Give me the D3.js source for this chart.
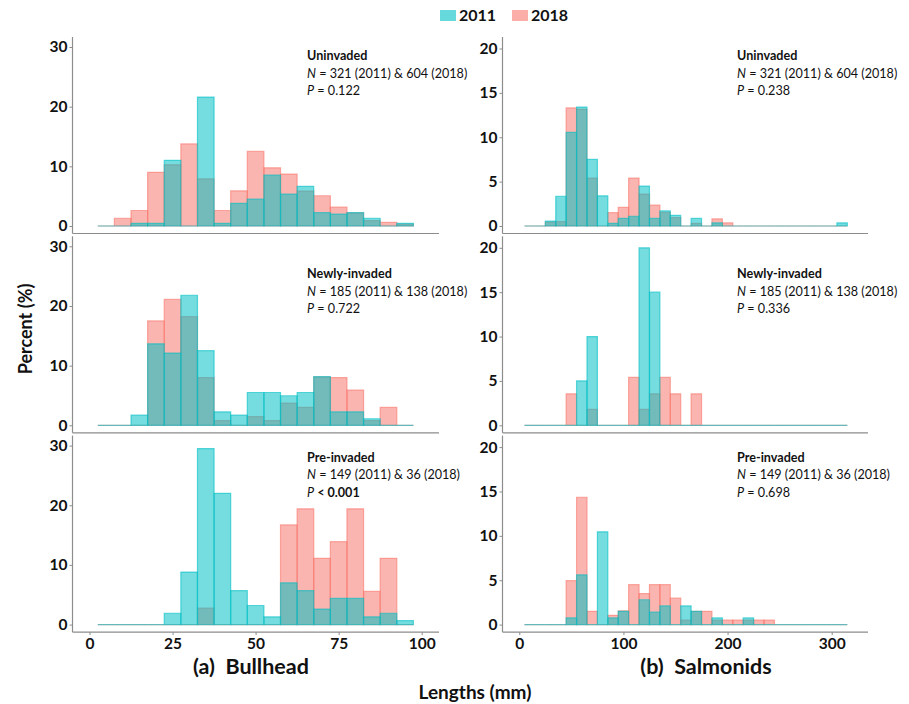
<!DOCTYPE html>
<html>
<head>
<meta charset="utf-8">
<script src="https://cdn.jsdelivr.net/npm/d3@7"></script>
<style>
  html, body { margin: 0; padding: 0; background: #fff; }
  svg { display: block; font-family: Lato, "Open Sans", sans-serif; }
</style>
</head>
<body>
<svg id="chart" width="909" height="704"></svg>
<script>
// ---------- DATA ----------
const seriesNames = ["2011", "2018"];
const bullheadBins = [5,10,15,20,25,30,35,40,45,50,55,60,65,70,75,80,85,90,95];
const salmonidBins = [10,20,30,40,50,60,70,80,90,100,110,120,130,140,150,160,170,180,190,200,210,220,230,240,250,260,270,280,290,300,310];
const bullheadTicksX = [0,25,50,75,100];
const salmonidTicksX = [0,100,200,300];
const bullheadTicksY = [0,10,20,30];
const salmonidTicksY = [0,5,10,15,20];

// Bullhead (% per 5 mm bin)
const bullUninv2011 = [0,0,0.45,0.45,11.0,0,21.6,0.45,3.8,4.5,8.55,5.35,6.65,2.25,2.0,2.25,1.3,0,0.45];
const bullUninv2018 = [0,1.3,2.6,9.0,10.25,13.75,7.9,2.6,5.9,12.5,9.75,8.7,5.85,5.07,3.15,2.2,0.9,0.6,0.3];
const bullNewly2011 = [0,0,1.7,13.65,12.1,21.8,12.5,2.25,1.7,5.5,5.5,4.95,5.5,8.15,2.25,2.25,1.1,0,0];
const bullNewly2018 = [0,0,0,17.5,21.1,18.2,8.0,0.8,0,1.45,0.8,3.7,3.0,8.1,8.0,5.9,0.8,3.0,0];
const bullPre2011   = [0,0,0,0,1.9,8.8,29.5,22.0,5.7,3.2,1.3,7.0,5.7,2.6,4.4,4.4,1.3,1.9,0.67];
const bullPre2018   = [0,0,0,0,0,0,2.78,0,0,0,0,16.7,19.4,11.1,13.9,19.4,5.56,11.1,0];

// Salmonids (% per 10 mm bin)
const salUninv2011 = [0,0,0.56,3.35,10.55,13.4,7.5,3.4,0.3,0.85,1.1,4.5,0.85,1.7,1.2,0,0.85,0,0.35,0,0,0,0,0,0,0,0,0,0,0,0.35];
const salUninv2018 = [0,0,0.45,0.5,13.3,13.15,5.4,0,1.5,2.1,5.4,3.6,2.35,1.55,0.95,0,0.3,0,0.8,0.35,0,0,0,0,0,0,0,0,0,0,0];
const salNewly2011 = [0,0,0,0,0,5.0,10.0,0,0,0,0,20.0,15.0,0,0,0,0,0,0,0,0,0,0,0,0,0,0,0,0,0,0];
const salNewly2018 = [0,0,0,0,3.55,0,1.8,0,0,0,5.4,1.8,3.55,5.4,3.55,0,3.55,0,0,0,0,0,0,0,0,0,0,0,0,0,0];
const salPre2011   = [0,0,0,0,0.75,5.6,0,10.45,0.75,1.5,0,2.8,1.4,2.1,0,2.1,1.5,0,0.75,0,0,0.75,0,0,0,0,0,0,0,0,0];
const salPre2018   = [0,0,0,0,4.95,14.35,1.5,0,1.05,1.55,4.5,3.5,4.5,4.5,3.0,0.5,1.5,1.5,0.5,0.5,0.5,0.5,0.5,0.5,0,0,0,0,0,0,0];

const siteNames = ["Uninvaded", "Newly-invaded", "Pre-invaded"];
const nTexts = ["321 (2011) & 604 (2018)", "185 (2011) & 138 (2018)", "149 (2011) & 36 (2018)"];
const pBullhead = ["= 0.122", "= 0.722", "< 0.001"];
const pSalmonids = ["= 0.238", "= 0.336", "= 0.698"];
const panelTitles = ["(a)\u00a0\u00a0Bullhead", "(b)\u00a0\u00a0Salmonids"];

// ---------- LAYOUT ----------
const svg = d3.select("#chart");
const col2011 = "#00BFC4", col2018 = "#F8766D";
const axisGrey = "#8c8c8c";
const rowZero = [226, 425.3, 624.6];

const cols = [
  { bins: bullheadBins, width: 5, ticksX: bullheadTicksX, ticksY: bullheadTicksY, yMax: 30, ySpan: 179,
    xDom: [0,100], xRange: [89.5, 421.7], axisX0: 72.5, axisX1: 439, annX: 307,
    data: [[bullUninv2011, bullUninv2018],[bullNewly2011, bullNewly2018],[bullPre2011, bullPre2018]], p: pBullhead, title: panelTitles[0], titleX: 251 },
  { bins: salmonidBins, width: 10, ticksX: salmonidTicksX, ticksY: salmonidTicksY, yMax: 20, ySpan: 177.5,
    xDom: [0,300], xRange: [519.3, 831.7], axisX0: 502.5, axisX1: 868, annX: 737,
    data: [[salUninv2011, salUninv2018],[salNewly2011, salNewly2018],[salPre2011, salPre2018]], p: pSalmonids, title: panelTitles[1], titleX: 706 }
];
const annOffset = [23, 42, 26]; // baseline of first annotation line below panel top

cols.forEach(c => {
  const x = d3.scaleLinear().domain(c.xDom).range(c.xRange);
  rowZero.forEach((z, r) => {
    const y = d3.scaleLinear().domain([0, c.yMax]).range([z, z - c.ySpan]);
    const top = z - 189, bottom = z + 7.5;
    const g = svg.append("g");

    // bars: 2018 first, 2011 on top
    const [d2011, d2018] = c.data[r];
    [[d2018, col2018], [d2011, col2011]].forEach(([vals, col]) => {
      g.append("g").selectAll("path")
        .data(c.bins.map((b, i) => ({ b, v: vals[i] })))
        .join("path")
        .attr("d", d => {
          const x0 = x(d.b - c.width / 2), x1 = x(d.b + c.width / 2);
          const y0 = y(0), y1 = y(d.v);
          return `M${x0},${y0}H${x1}V${y1}H${x0}Z`;
        })
        .attr("fill", col).attr("fill-opacity", 0.54)
        .attr("stroke", col).attr("stroke-opacity", 0.6).attr("stroke-width", 1.2);
    });

    // axis lines
    g.append("line").attr("x1", c.axisX0).attr("x2", c.axisX0).attr("y1", top).attr("y2", bottom)
      .attr("stroke", axisGrey).attr("stroke-width", 1.2);
    g.append("line").attr("x1", c.axisX0).attr("x2", c.axisX1).attr("y1", bottom).attr("y2", bottom)
      .attr("stroke", axisGrey).attr("stroke-width", 1.2);

    // y axis
    const ya = g.append("g").attr("transform", `translate(${c.axisX0},0)`)
      .call(d3.axisLeft(y).tickValues(c.ticksY).tickSize(3).tickPadding(2));
    ya.select(".domain").remove();
    ya.selectAll(".tick line").attr("stroke", axisGrey);
    ya.selectAll(".tick text").attr("font-family", "Lato, sans-serif").attr("font-weight", "bold")
      .attr("font-size", 15.5).attr("fill", "#111");

    // x axis on bottom row only
    if (r === 2) {
      const xa = g.append("g").attr("transform", `translate(0,${bottom})`)
        .call(d3.axisBottom(x).tickValues(c.ticksX).tickSize(3).tickPadding(3));
      xa.select(".domain").remove();
      xa.selectAll(".tick line").attr("stroke", axisGrey);
      xa.selectAll(".tick text").attr("font-family", "Lato, sans-serif").attr("font-weight", "bold")
        .attr("font-size", 15.5).attr("fill", "#111");
    }

    // annotations
    const ay = top + annOffset[r];
    const ann = g.append("g").attr("font-size", 12.6).attr("fill", "#111");
    ann.append("text").attr("x", c.annX).attr("y", ay).attr("font-weight", "bold").text(siteNames[r]);
    const tN = ann.append("text").attr("x", c.annX).attr("y", ay + 17.5);
    tN.append("tspan").attr("font-style", "italic").text("N");
    tN.append("tspan").text(" = " + nTexts[r]);
    const tP = ann.append("text").attr("x", c.annX).attr("y", ay + 35);
    tP.append("tspan").attr("font-style", "italic").text("P");
    const bold = c.p[r].startsWith("<");
    tP.append("tspan").attr("font-weight", bold ? "bold" : "normal").text(" " + c.p[r]);
  });

  // panel title
  svg.append("text").attr("x", c.titleX).attr("y", 674).attr("text-anchor", "middle")
    .attr("font-weight", "bold").attr("font-size", 21.5).attr("fill", "#111").text(c.title);
});

// axis titles
svg.append("text").attr("x", 475).attr("y", 699).attr("text-anchor", "middle")
  .attr("font-weight", "bold").attr("font-size", 19).attr("fill", "#111").text("Lengths (mm)");
svg.append("text").attr("transform", "translate(32,329) rotate(-90)").attr("text-anchor", "middle")
  .attr("font-weight", "bold").attr("font-size", 18).attr("fill", "#111").text("Percent (%)");

// legend
const legend = svg.append("g");
const legItems = [{ name: seriesNames[0], col: col2011, x: 440 }, { name: seriesNames[1], col: col2018, x: 512 }];
legItems.forEach(it => {
  legend.append("rect").attr("x", it.x).attr("y", 10).attr("width", 16).attr("height", 11)
    .attr("fill", it.col).attr("fill-opacity", 0.6);
  legend.append("text").attr("x", it.x + 19).attr("y", 21).attr("font-weight", "bold")
    .attr("font-size", 16).attr("fill", "#111").text(it.name);
});
</script>
</body>
</html>
